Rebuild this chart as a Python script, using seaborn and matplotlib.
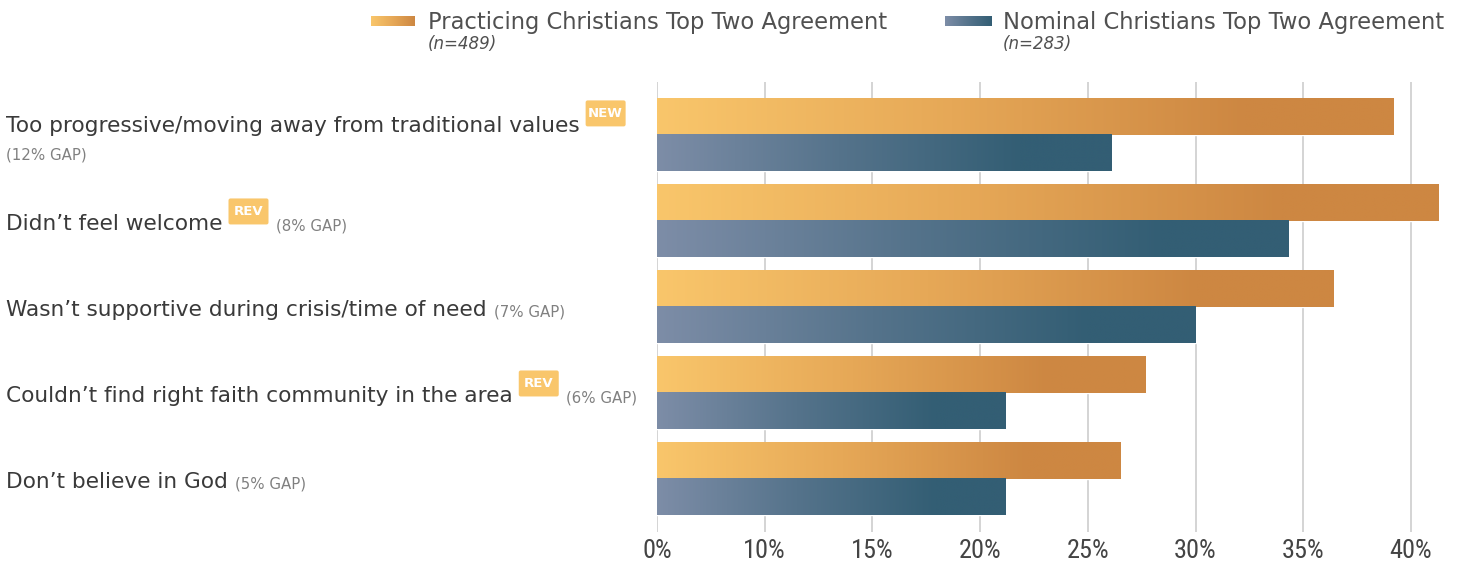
import numpy as np
import pandas as pd
import seaborn as sns
import matplotlib
matplotlib.use("Agg")
import matplotlib.pyplot as plt
from matplotlib import font_manager
from matplotlib.colors import LinearSegmentedColormap
from matplotlib.patches import FancyBboxPatch
import matplotlib.transforms as mtrans

# ---- data -------------------------------------------------------------
categories = [
    "Too progressive/moving away from traditional values",
    "Didn\u2019t feel welcome",
    "Wasn\u2019t supportive during crisis/time of need",
    "Couldn\u2019t find right faith community in the area",
    "Don\u2019t believe in God",
]
practicing = [39.2, 41.3, 36.4, 27.7, 26.5]
nominal = [26.1, 34.3, 30.0, 21.2, 21.2]
gap_labels = ["(12% GAP)", "(8% GAP)", "(7% GAP)", "(6% GAP)", "(5% GAP)"]
badges = ["NEW", "REV", None, "REV", None]
series_names = ["Practicing Christians Top Two Agreement",
                "Nominal Christians Top Two Agreement"]
sample_sizes = ["(n=489)", "(n=283)"]
tick_values = [5, 10, 15, 20, 25, 30, 35, 40]
tick_labels = ["0%", "10%", "15%", "20%", "25%", "30%", "35%", "40%"]

# ---- styling ----------------------------------------------------------
W, H = 1465, 567
sns.set_theme(style="white")
plt.rcParams["font.family"] = ["DejaVu Sans"]


def first_font(names, default):
    for name in names:
        try:
            font_manager.findfont(name, fallback_to_default=False)
            return name
        except Exception:
            pass
    return default


narrow = first_font(["Liberation Sans Narrow", "DejaVu Sans Condensed",
                     "Roboto Condensed", "Open Sans Condensed"], None)
tick_font = narrow if narrow else "DejaVu Sans"
tick_size = 19 if narrow else 16

warm = LinearSegmentedColormap.from_list("warm", ["#F9C66B", "#E6A857", "#CD8742"])
cool = LinearSegmentedColormap.from_list("cool", ["#7D8DA7", "#55738B", "#335E74"])
cmaps = [warm, cool]
badge_color = "#F9C66B"
label_color = "#3a3a3a"
gap_color = "#808080"

df = pd.DataFrame({
    "category": categories * 2,
    "value": practicing + nominal,
    "series": [series_names[0]] * len(categories) + [series_names[1]] * len(categories),
})

fig = plt.figure(figsize=(W / 100, H / 100), dpi=100)
fig.patch.set_facecolor("white")
ax = fig.add_axes([657 / W, 1 - 532 / H, (1454 - 657) / W, (532 - 82) / H])

sns.barplot(data=df, x="value", y="category", hue="series", order=categories,
            hue_order=series_names, orient="h", width=0.84, dodge=True,
            palette=["#E3A352", "#4F6E86"], saturation=1, errorbar=None,
            legend=False, ax=ax)

xmin, xmax = 5, 42
ax.set_xlim(xmin, xmax)

# gradient fill over the visible part of each bar:
# light at the axis edge, full colour at ~80% of the length
ramp = np.clip(np.linspace(0, 1, 512) / 0.8, 0, 1)[None, :]
bars = [p for p in ax.patches if p.get_width() > 0]
n = len(categories)
for k, bar in enumerate(bars):
    x0, y0 = max(bar.get_x(), xmin), bar.get_y()
    x1, h = bar.get_x() + bar.get_width(), bar.get_height()
    ax.imshow(ramp, extent=[x0, x1, y0 + h, y0], aspect="auto",
              cmap=cmaps[k // n], vmin=0, vmax=1, interpolation="bilinear",
              zorder=bar.get_zorder() + 0.1)

ax.set_xlim(xmin, xmax)
ax.set_ylim(len(categories) - 1 + 0.616, -0.616)
ax.set_xticks(tick_values)
ax.set_xticklabels(tick_labels, fontfamily=tick_font, fontsize=tick_size, color="#444444")
ax.set_yticks([])
ax.set_xlabel("")
ax.set_ylabel("")
ax.xaxis.grid(True, color="#d4d4d4", linewidth=1.4)
ax.set_axisbelow(True)
ax.tick_params(axis="x", length=0, pad=5)
for s in ax.spines.values():
    s.set_visible(False)

# ---- category labels with badges and gap notes -------------------------
lab_tf = mtrans.blended_transform_factory(fig.transFigure, ax.transData)
label_size = 15.6
gap_size = 10.8
fig.canvas.draw()
renderer = fig.canvas.get_renderer()

for i, cat in enumerate(categories):
    base_y = i - 0.03 if i == 0 else i + 0.11
    t = fig.text(6 / W, base_y, cat, transform=lab_tf, fontsize=label_size,
                 color=label_color, va="baseline", ha="left")
    bb = t.get_window_extent(renderer)
    x_right = bb.x1
    base_px = ax.transData.transform((0, base_y))[1]
    if badges[i]:
        bx = x_right + 6
        by = base_px + 6
        fig.patches.append(FancyBboxPatch((bx, by), 40, 26,
                                          boxstyle="round,pad=0,rounding_size=2",
                                          facecolor=badge_color, edgecolor="none",
                                          transform=None, figure=fig))
        fig.text(bx + 20, by + 13, badges[i], transform=None, fontsize=9.5,
                 fontweight="bold", color="white", ha="center", va="center")
        x_right = bx + 40
    if i == 0:
        gy = ax.transData.transform((0, i + 0.29))[1]
        fig.text(6, gy, gap_labels[i], transform=None, fontsize=gap_size,
                 color=gap_color, va="baseline", ha="left")
    else:
        fig.text(x_right + 7, base_px, gap_labels[i], transform=None,
                 fontsize=gap_size, color=gap_color, va="baseline", ha="left")

# ---- legend ------------------------------------------------------------
swatches = [(371, 415), (945, 992)]
text_x = [428, 1003]
for j in range(2):
    x0, x1 = swatches[j]
    sax = fig.add_axes([x0 / W, 1 - 26 / H, (x1 - x0) / W, 10 / H])
    sax.imshow(np.linspace(0, 1, 256)[None, :], aspect="auto", cmap=cmaps[j])
    sax.set_axis_off()
    fig.text(text_x[j], H - 29, series_names[j], transform=None, fontsize=16.3,
             color="#505050", va="baseline", ha="left")
    fig.text(text_x[j], H - 49, sample_sizes[j], transform=None, fontsize=12,
             fontstyle="italic", color="#505050", va="baseline", ha="left")

fig.savefig("out.png", dpi=100, facecolor="white")
